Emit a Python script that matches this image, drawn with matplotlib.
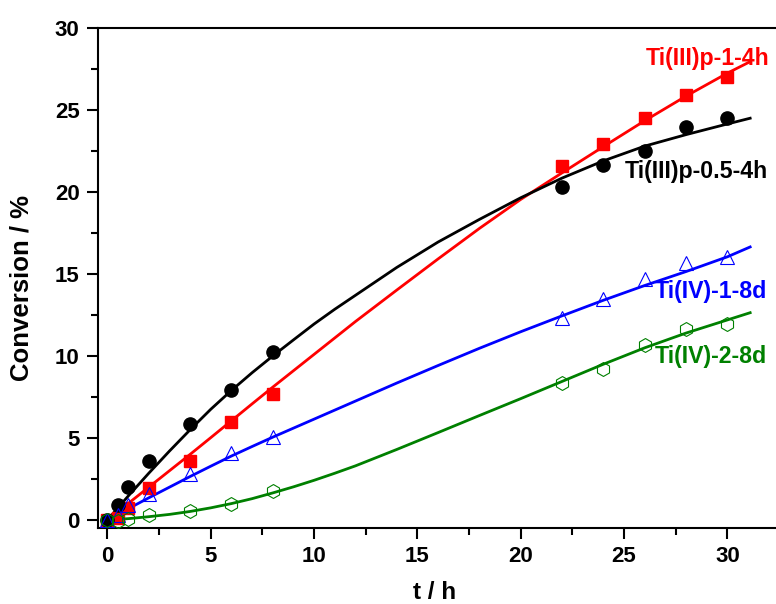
import numpy as np
import matplotlib
matplotlib.use('Agg')
import matplotlib.pyplot as plt
from matplotlib.ticker import MultipleLocator

plt.rcParams['font.family'] = ['Liberation Sans', 'DejaVu Sans']
plt.rcParams['font.weight'] = 'bold'

# measured points
t_pts = [0, 0.5, 1, 2, 4, 6, 8, 22, 24, 26, 28, 30]
p05_pts = [0, 0.9, 2.0, 3.6, 5.83, 7.93, 10.22, 20.29, 21.65, 22.52, 23.94, 24.49]
p1_pts = [0, 0.1, 0.73, 1.93, 3.62, 6.0, 7.68, 21.59, 22.9, 24.49, 25.9, 26.99]
iv1_pts = [0, 0.3, 0.9, 1.57, 2.8, 4.07, 5.08, 12.3, 13.5, 14.7, 15.7, 16.05]
iv2_pts = [0, -0.05, 0.08, 0.3, 0.55, 1.0, 1.77, 8.33, 9.2, 10.7, 11.65, 11.95]

# fitted curves
t_fit = [0, 1, 2, 3, 4, 5, 6, 7, 8, 9, 10, 11, 12, 14, 16, 18, 20, 22, 24, 26, 28, 30, 31.1]
p05_fit = [0, 1.45, 2.85, 4.2, 5.5, 6.75, 7.9, 8.98, 10.0, 10.98, 11.95, 12.85, 13.7, 15.4,
           16.95, 18.33, 19.65, 20.85, 21.9, 22.8, 23.5, 24.15, 24.5]
p1_fit = [0, 1.0, 2.0, 3.0, 4.0, 5.02, 6.05, 7.08, 8.1, 9.1, 10.1, 11.1, 12.1, 14.02,
          15.92, 17.78, 19.55, 21.17, 22.77, 24.35, 25.85, 27.25, 27.95]
iv1_fit = [0, 0.68, 1.35, 2.0, 2.65, 3.28, 3.9, 4.48, 5.05, 5.6, 6.15, 6.7, 7.25, 8.35,
           9.42, 10.47, 11.48, 12.45, 13.4, 14.3, 15.15, 16.05, 16.65]
iv2_fit = [0, 0.08, 0.2, 0.34, 0.52, 0.74, 1.0, 1.3, 1.65, 2.02, 2.42, 2.85, 3.3, 4.3,
           5.33, 6.37, 7.4, 8.45, 9.5, 10.5, 11.4, 12.2, 12.64]

names = ['Ti(III)p-1-4h', 'Ti(III)p-0.5-4h', 'Ti(IV)-1-8d', 'Ti(IV)-2-8d']
label_x = [26.06, 25.05, 26.5, 26.5]
label_y = [28.17, 21.28, 13.92, 9.96]

fig = plt.figure(figsize=(7.76, 6.04), dpi=100)
ax = fig.add_axes([0.1259, 0.1258, 0.8741, 0.8278])

ax.plot(t_fit, p1_fit, color='#ff0000', lw=2.0, zorder=2)
ax.plot(t_fit, p05_fit, color='black', lw=2.0, zorder=2)
ax.plot(t_fit, iv1_fit, color='#0000ff', lw=2.0, zorder=2)
ax.plot(t_fit, iv2_fit, color='#008000', lw=2.0, zorder=2)

ax.plot(t_pts, p1_pts, 's', color='#ff0000', ms=8, mec='#ff0000', zorder=3)
ax.plot(t_pts, p05_pts, 'o', color='black', ms=9.5, zorder=3)
ax.plot(t_pts, iv1_pts, '^', mfc='none', mec='#0000ff', ms=10, mew=0.8, zorder=3)
ax.plot(t_pts, iv2_pts, 'h', mfc='none', mec='#008000', ms=10, mew=0.8, zorder=3)

colors = ['#ff0000', 'black', '#0000ff', '#008000']
for n, x, y, c in zip(names, label_x, label_y, colors):
    ax.text(x, y, n, color=c, fontsize=16.7, fontweight='bold', va='center', ha='left')

ax.set_xlim(-0.47, 32.35)
ax.set_ylim(-0.49, 30)
ax.xaxis.set_major_locator(MultipleLocator(5))
ax.xaxis.set_minor_locator(MultipleLocator(2.5))
ax.yaxis.set_major_locator(MultipleLocator(5))
ax.yaxis.set_minor_locator(MultipleLocator(2.5))
ax.tick_params(which='major', direction='out', length=8, width=1.5, labelsize=16, pad=5)
ax.tick_params(which='minor', direction='out', length=5, width=1.5)
for lab in ax.get_xticklabels() + ax.get_yticklabels():
    lab.set_fontweight('bold')

ax.spines['right'].set_visible(False)
for s in ['left', 'bottom', 'top']:
    ax.spines[s].set_linewidth(1.5)

ax.set_xlabel('t / h', fontsize=17.5, fontweight='bold')
ax.set_ylabel('Conversion / %', fontsize=18.5, fontweight='bold')
ax.xaxis.set_label_coords(0.497, -0.106)
ax.yaxis.set_label_coords(-0.095, 0.48)

fig.savefig('out.png', dpi=100)
